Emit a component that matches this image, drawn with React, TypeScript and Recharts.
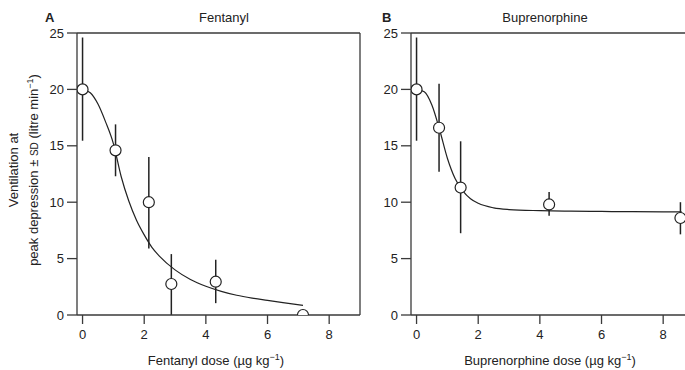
import {
  ComposedChart,
  ErrorBar,
  Line,
  ReferenceLine,
  Scatter,
  XAxis,
  YAxis,
} from "recharts";

const xTicks = [0, 2, 4, 6, 8];
const yTicks = [0, 5, 10, 15, 20, 25];

// Fentanyl: dose, mean ventilation, and the ends of the SD bars
const fenDose = [0, 1.07, 2.15, 2.88, 4.32, 7.15];
const fenVent = [20, 14.6, 10, 2.75, 2.95, 0];
const fenLow = [15.45, 12.3, 5.9, 0, 1.05, 0];
const fenHigh = [24.6, 16.9, 14.0, 5.4, 4.9, 0];

// fitted fentanyl curve
const fenCurveDose = [0, 0.25, 0.5, 0.75, 1.0, 1.25, 1.5, 1.75, 2.0, 2.25, 2.5, 3.0, 3.5, 4.0, 4.5, 5.0, 5.5, 6.0, 6.5, 7.15];
const fenCurveVent = [20, 19.7, 18.7, 17.1, 15.2, 12.3, 10.1, 8.4, 7.1, 6.0, 5.2, 4.0, 3.15, 2.55, 2.1, 1.75, 1.5, 1.3, 1.1, 0.85];

// Buprenorphine
const bupDose = [0, 0.73, 1.43, 4.3, 8.56];
const bupVent = [20, 16.6, 11.3, 9.8, 8.6];
const bupLow = [15.45, 12.7, 7.25, 8.8, 7.15];
const bupHigh = [24.6, 20.5, 15.4, 10.9, 10.0];

const bupCurveDose = [0, 0.25, 0.5, 0.75, 1.0, 1.25, 1.5, 1.75, 2.0, 2.5, 3.0, 4.0, 5.0, 6.0, 7.0, 8.0, 8.6];
const bupCurveVent = [20, 19.8, 18.6, 16.4, 13.9, 12.1, 11.0, 10.3, 9.9, 9.5, 9.35, 9.25, 9.2, 9.18, 9.16, 9.15, 9.15];

const FONT = "'Liberation Sans', Arial, Helvetica, sans-serif";
const AXIS = "#3a3a3a";
const X_DOMAIN = [-0.18, 9];

const toPoints = (dose: number[], vent: number[], lo: number[], hi: number[]) =>
  dose.map((d, i) => ({ dose: d, vent: vent[i], err: [vent[i] - lo[i], hi[i] - vent[i]] }));

const toCurve = (dose: number[], vent: number[]) =>
  dose.map((d, i) => ({ dose: d, vent: vent[i] }));

const OpenCircle = (props: any) => (
  <circle cx={props.cx} cy={props.cy} r={5.5} fill="#fff" stroke="#222" strokeWidth={1.2} />
);

interface PanelProps {
  points: any[];
  curve: any[];
}

const Panel: React.FC<PanelProps> = ({ points, curve }) => (
  <ComposedChart width={370} height={370} margin={{ top: 33, right: 10, bottom: 0, left: 0 }}>
    <XAxis
      type="number"
      dataKey="dose"
      domain={X_DOMAIN}
      ticks={xTicks}
      allowDataOverflow
      height={55}
      tickSize={9}
      tickMargin={6}
      stroke={AXIS}
      strokeWidth={1.3}
      tick={{ fill: "#222", fontSize: 13, fontFamily: FONT }}
    />
    <YAxis
      type="number"
      dataKey="vent"
      domain={[0, 25]}
      ticks={yTicks}
      allowDataOverflow
      width={77}
      tickSize={10}
      tickMargin={3}
      stroke={AXIS}
      strokeWidth={1.3}
      tick={{ fill: "#222", fontSize: 13, fontFamily: FONT }}
    />
    <ReferenceLine y={25} stroke={AXIS} strokeWidth={1.3} />
    <ReferenceLine x={9} stroke={AXIS} strokeWidth={1.3} />
    <Line
      data={curve}
      dataKey="vent"
      type="monotone"
      stroke="#222"
      strokeWidth={1.2}
      dot={false}
      isAnimationActive={false}
    />
    <Scatter data={points} dataKey="vent" shape={OpenCircle} isAnimationActive={false}>
      <ErrorBar dataKey="err" direction="y" width={0} stroke="#222" strokeWidth={1.5} />
    </Scatter>
  </ComposedChart>
);

const abs = (left: number, top: number): React.CSSProperties => ({
  position: "absolute",
  left,
  top,
  whiteSpace: "nowrap",
  lineHeight: 1,
});

export default function App() {
  return (
    <div
      style={{
        position: "fixed",
        left: 0,
        top: 0,
        width: 685,
        height: 370,
        overflow: "hidden",
        background: "#fff",
        fontFamily: FONT,
        fontSize: 13,
        color: "#222",
      }}
    >
      <div style={{ position: "absolute", left: 0, top: 0 }}>
        <Panel points={toPoints(fenDose, fenVent, fenLow, fenHigh)} curve={toCurve(fenCurveDose, fenCurveVent)} />
      </div>
      <div style={{ position: "absolute", left: 334, top: 0 }}>
        <Panel points={toPoints(bupDose, bupVent, bupLow, bupHigh)} curve={toCurve(bupCurveDose, bupCurveVent)} />
      </div>

      {/* panel letters and titles */}
      <div style={{ ...abs(45, 11), fontWeight: "bold" }}>A</div>
      <div style={{ ...abs(224, 11), transform: "translateX(-50%)" }}>Fentanyl</div>
      <div style={{ ...abs(382, 11), fontWeight: "bold" }}>B</div>
      <div style={{ ...abs(545, 11), transform: "translateX(-50%)" }}>Buprenorphine</div>

      {/* x axis titles */}
      <div style={{ ...abs(216, 353), transform: "translateX(-50%)" }}>
        Fentanyl dose (µg kg<sup style={{ fontSize: 9 }}>−1</sup>)
      </div>
      <div style={{ ...abs(550, 353), transform: "translateX(-50%)" }}>
        Buprenorphine dose (µg kg<sup style={{ fontSize: 9 }}>−1</sup>)
      </div>

      {/* y axis title */}
      <div
        style={{
          position: "absolute",
          left: 24,
          top: 170,
          transform: "translate(-50%, -50%) rotate(-90deg)",
          textAlign: "center",
          whiteSpace: "nowrap",
          lineHeight: "17px",
        }}
      >
        <div>Ventilation at</div>
        <div>
          peak depression ± <span style={{ fontSize: 10 }}>SD</span> (litre min
          <sup style={{ fontSize: 9 }}>−1</sup>)
        </div>
      </div>
    </div>
  );
}
